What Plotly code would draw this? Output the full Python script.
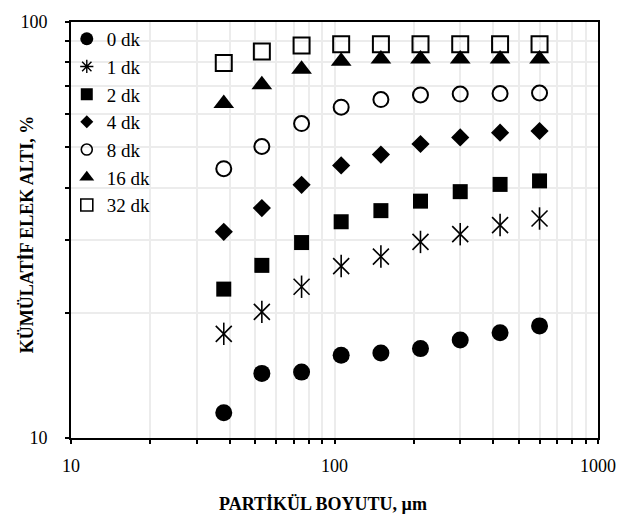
import plotly.graph_objects as go

sizes = [38, 53, 75, 106, 150, 212, 300, 425, 600]
names = ["0 dk", "1 dk", "2 dk", "4 dk", "8 dk", "16 dk", "32 dk"]
t0 = [11.5, 14.3, 14.4, 15.8, 16.0, 16.4, 17.2, 17.9, 18.6]
t1 = [17.8, 20.1, 23.1, 25.9, 27.3, 29.6, 30.9, 32.5, 33.7]
t2 = [22.8, 26.0, 29.5, 33.1, 35.2, 37.1, 39.1, 40.7, 41.5]
t4 = [31.3, 35.7, 40.6, 45.2, 48.0, 50.9, 52.8, 54.2, 54.7]
t8 = [44.4, 50.2, 57.0, 62.4, 65.1, 66.8, 67.1, 67.3, 67.5]
t16 = [63.7, 70.7, 77.0, 80.5, 81.5, 81.5, 81.5, 81.5, 81.5]
t32 = [79.7, 84.9, 87.8, 88.4, 88.4, 88.4, 88.4, 88.4, 88.4]

x_tickvals = [10, 20, 30, 40, 50, 60, 70, 80, 90, 100,
              200, 300, 400, 500, 600, 700, 800, 900, 1000]
x_ticktext = ["10"] + [""] * 8 + ["100"] + [""] * 8 + ["1000"]
y_tickvals = [10, 20, 30, 40, 50, 60, 70, 80, 90, 100]
y_ticktext = ["10"] + [""] * 8 + ["100"]

series = [t0, t1, t2, t4, t8, t16, t32]
styles = [
    ("circle", 17, 0),
    ("x-thin-open", 16, 1.6),
    ("square", 15, 0),
    ("diamond", 14, 0),
    ("circle-open", 15, 2),
    ("triangle-up", 18, 0),
    ("square-open", 16, 2),
]
legend_styles = [
    ("circle", 13, 0),
    ("asterisk-open", 11, 1.4),
    ("square", 12, 0),
    ("diamond", 10, 0),
    ("circle-open", 11, 1.6),
    ("triangle-up", 13, 0),
    ("square-open", 12, 1.6),
]

fig = go.Figure()

for i in reversed(range(len(series))):
    sym, sz, lw = styles[i]
    fig.add_trace(go.Scatter(
        x=sizes, y=series[i], mode="markers", name=names[i], showlegend=False,
        marker=dict(symbol=sym, size=sz, color="black",
                    line=dict(width=lw, color="black")),
    ))
    if i == 1:
        fig.add_trace(go.Scatter(
            x=sizes, y=series[i], mode="markers", name=names[i], showlegend=False,
            marker=dict(symbol="line-ns-open", size=16, color="black",
                        line=dict(width=1.6, color="black")),
        ))

for i in range(len(series)):
    sym, sz, lw = legend_styles[i]
    fig.add_trace(go.Scatter(
        x=[None], y=[None], mode="markers", name=names[i], legendgroup=names[i],
        marker=dict(symbol=sym, size=sz, color="black",
                    line=dict(width=lw, color="black")),
    ))

font = "Liberation Serif, Times New Roman, DejaVu Serif, serif"
axis_common = dict(
    type="log",
    showline=True, linecolor="black", linewidth=2, mirror=True,
    ticks="outside", ticklen=4, tickwidth=1.5, tickcolor="black",
    showgrid=True, gridcolor="#ececec", gridwidth=2,
    tickfont=dict(family=font, size=18, color="black"),
    zeroline=False, tickmode="array",
)

fig.update_layout(
    width=642, height=522,
    margin=dict(l=71, r=44, t=15, b=84),
    paper_bgcolor="white", plot_bgcolor="white",
    font=dict(family=font, color="black"),
    showlegend=True,
    legend=dict(x=-0.008, y=1.005, xanchor="left", yanchor="top",
                bgcolor="rgba(0,0,0,0)", traceorder="grouped", tracegroupgap=0,
                font=dict(family=font, size=19, color="black"), itemwidth=30),
    xaxis=dict(axis_common, range=[1, 3], tickvals=x_tickvals, ticktext=x_ticktext,
               ticklabelstandoff=6),
    yaxis=dict(axis_common, range=[1, 2], tickvals=y_tickvals, ticktext=y_ticktext,
               ticklabelstandoff=14),
    annotations=[
        dict(text="<b>PARTİKÜL BOYUTU, µm</b>", xref="paper", yref="paper",
             x=0.479, y=-0.158, xanchor="center", yanchor="middle", showarrow=False,
             font=dict(family=font, size=18, color="black")),
        dict(text="<b>KÜMÜLATİF ELEK ALTI, %</b>", xref="paper", yref="paper",
             x=-0.083, y=0.488, xanchor="center", yanchor="middle", showarrow=False,
             textangle=-90, font=dict(family=font, size=18, color="black")),
    ],
)

fig.write_html("out.html")
